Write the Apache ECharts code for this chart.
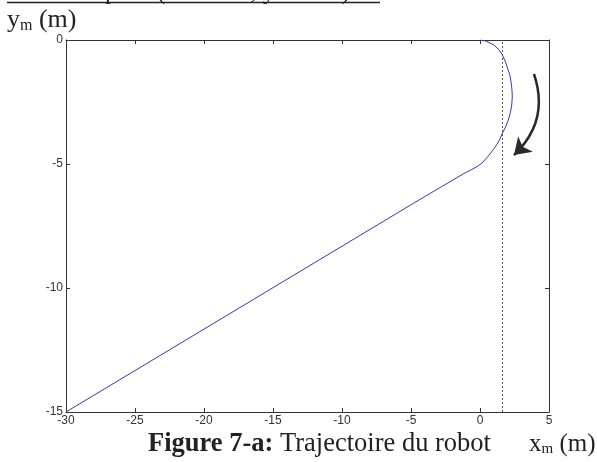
<!DOCTYPE html>
<html><head><meta charset="utf-8">
<script src="https://cdn.jsdelivr.net/npm/echarts@6/dist/echarts.min.js"></script>
<style>html,body{margin:0;padding:0;background:#fff}#c{width:597px;height:462px}</style>
</head><body><div id="c"></div>
<script>
// Trajectory x_m, y_m (m)
const trajX = [-30, -4.42, -1.09, -0.65, -0.14, 0.22, 0.54, 0.83, 1.16, 1.41, 1.63, 1.85, 2.05, 2.21, 2.30, 2.34, 2.32, 2.25, 2.16, 1.99, 1.85, 1.62, 1.38, 1.01, 0.41, 0];
const trajY = [-15, -6.45, -5.36, -5.24, -5.08, -4.92, -4.72, -4.52, -4.27, -4.03, -3.75, -3.51, -3.23, -2.90, -2.62, -2.30, -2.02, -1.69, -1.41, -1.13, -0.89, -0.6, -0.4, -0.2, -0.04, 0];
const xTicks = [-30, -25, -20, -15, -10, -5, 0, 5];
const yTicks = [-15, -10, -5, 0];
const dashedX = 1.6;
const arrowFrom = [3.91, -1.37];
const arrowTo = [2.46, -4.64];

const chart = echarts.init(document.getElementById('c'));
const axisCommon = {
  axisLine: {show: true, onZero: false, lineStyle: {color: '#333', width: 1}},
  axisTick: {show: true, inside: true, length: 4, lineStyle: {color: '#333'}},
  splitLine: {show: false}
};
const lbl = {fontSize: 12, color: '#333', fontFamily: 'Liberation Sans', margin: 3};
chart.setOption({
  animation: false,
  grid: {left: 66, right: 48, top: 40, bottom: 50},
  xAxis: [
    Object.assign({type: 'value', min: xTicks[0], max: xTicks[xTicks.length-1], interval: 5,
      axisLabel: lbl}, axisCommon),
    Object.assign({type: 'value', position: 'top', min: xTicks[0], max: xTicks[xTicks.length-1], interval: 5,
      axisLabel: {show: false}}, axisCommon)
  ],
  yAxis: [
    Object.assign({type: 'value', min: yTicks[0], max: yTicks[yTicks.length-1], interval: 5,
      axisLabel: lbl}, axisCommon),
    Object.assign({type: 'value', position: 'right', min: yTicks[0], max: yTicks[yTicks.length-1], interval: 5,
      axisLabel: {show: false}}, axisCommon)
  ],
  series: [
    {
      type: 'line', data: trajX.map((x, i) => [x, trajY[i]]), showSymbol: false, smooth: false,
      lineStyle: {color: '#3a3aa8', width: 1},
      markLine: {
        silent: true, symbol: 'none', label: {show: false},
        lineStyle: {color: '#555', type: [2, 2], width: 1},
        data: [{xAxis: dashedX}]
      }
    },
    {
      type: 'lines', coordinateSystem: 'cartesian2d', polyline: false,
      symbol: ['none', 'arrow'], symbolSize: [0, 16],
      lineStyle: {color: '#2a2a2a', width: 2.5, curveness: 0.32, opacity: 1},
      data: [{coords: [arrowFrom, arrowTo]}]
    }
  ],
  graphic: [
    {type: 'text', left: 7, top: 7, style: {
      text: '{a|y}{s|m}{a| (m)}',
      rich: {a: {fontFamily: 'Liberation Serif', fontSize: 26, fill: '#222'},
             s: {fontFamily: 'Liberation Serif', fontSize: 16, fill: '#222', padding: [11,0,0,0]}}
    }},
    {type: 'text', left: 148, top: 431, style: {
      text: '{b|Figure 7-a:}{a| Trajectoire du robot}',
      rich: {b: {fontFamily: 'Liberation Serif', fontSize: 26.5, fontWeight: 'bold', fill: '#222'},
             a: {fontFamily: 'Liberation Serif', fontSize: 26.5, fill: '#222'}}
    }},
    {type: 'text', left: 529, top: 432, style: {
      text: '{a|x}{s|m}{a| (m)}',
      rich: {a: {fontFamily: 'Liberation Serif', fontSize: 25, fill: '#222'},
             s: {fontFamily: 'Liberation Serif', fontSize: 15, fill: '#222', padding: [10,0,0,0]}}
    }},
    {type: 'text', left: 7, top: -20, style: {
      text: 'Résultats pour (x  = -30 , y  = -15) :',
      fontFamily: 'Liberation Serif', fontSize: 25, fill: '#222'
    }},
    {type: 'line', shape: {x1: 7, y1: 2.5, x2: 380, y2: 2.5}, style: {stroke: '#222', lineWidth: 1.5}}
  ]
});
</script></body></html>
